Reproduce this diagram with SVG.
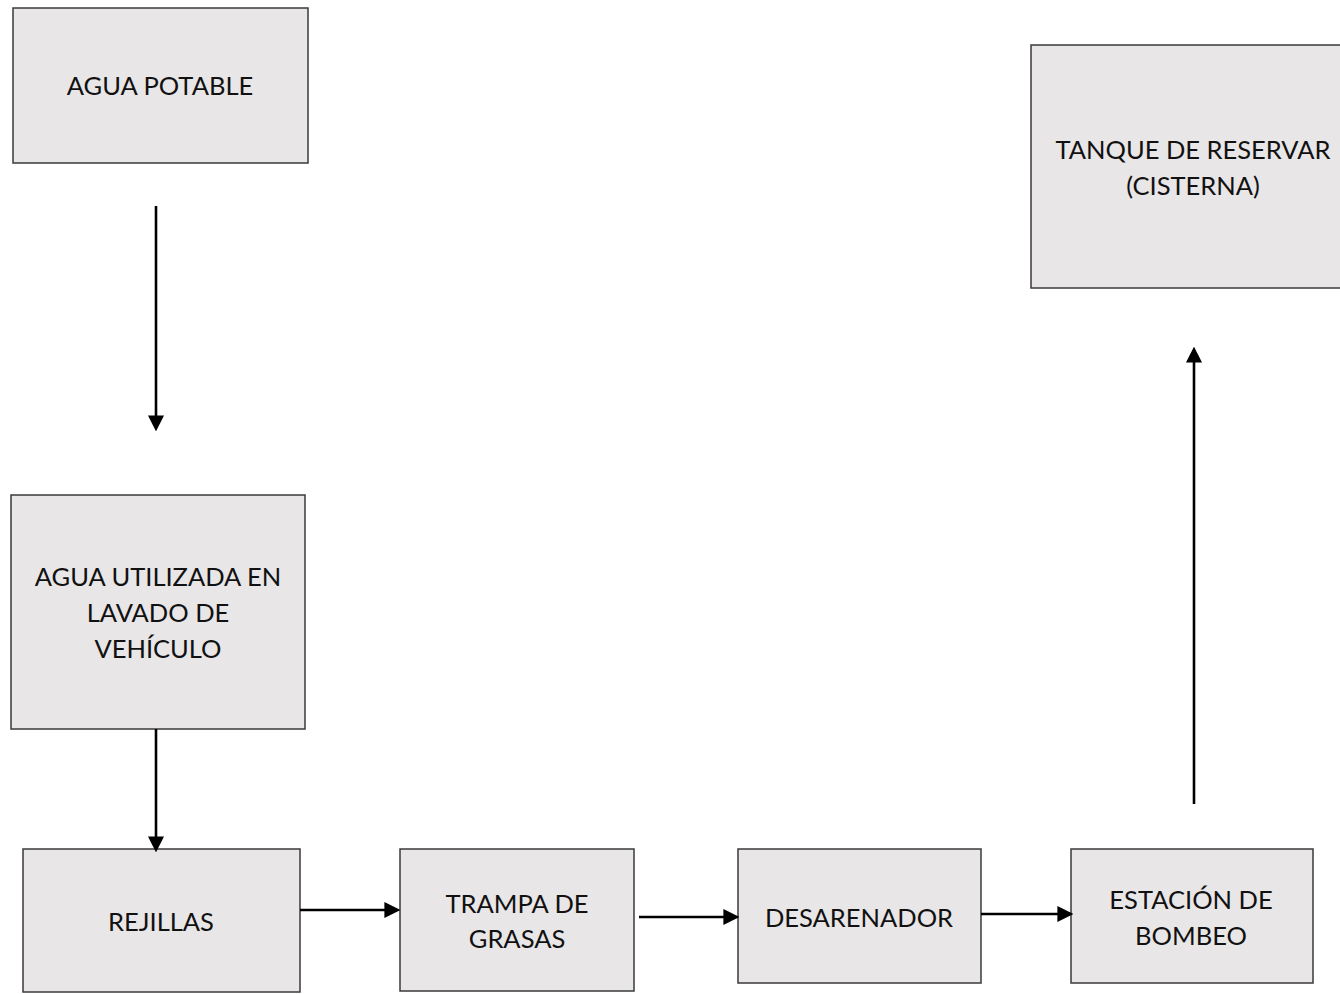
<svg xmlns="http://www.w3.org/2000/svg" width="1340" height="994" viewBox="0 0 1340 994">
<style>
.box{fill:#e8e6e7;stroke:#3a3a3a;stroke-width:1.5}
.lbl{font-family:Lato,"Open Sans","Liberation Sans",sans-serif;font-size:25.5px;fill:#111;text-anchor:middle}
.con{stroke:#000;stroke-width:2.6;fill:none;marker-end:url(#ah)}
</style>
<defs>
<marker id="ah" markerUnits="userSpaceOnUse" markerWidth="16" markerHeight="16" viewBox="0 0 10 10" refX="1" refY="5" orient="auto">
<path d="M0,0 L10,5 L0,10 z" fill="#000"/>
</marker>
</defs>
<rect width="1340" height="994" fill="#fff"/>
<g id="agua-potable"><rect class="box" x="13" y="8" width="295" height="155"/><text class="lbl" x="160" y="95">AGUA POTABLE</text></g>
<g id="agua-utilizada"><rect class="box" x="11" y="495" width="294" height="234"/><text class="lbl" x="158" y="586">AGUA UTILIZADA EN</text><text class="lbl" x="158" y="622">LAVADO DE</text><text class="lbl" x="158" y="658">VEHÍCULO</text></g>
<g id="rejillas"><rect class="box" x="23" y="849" width="277" height="143"/><text class="lbl" x="161" y="931">REJILLAS</text></g>
<g id="trampa"><rect class="box" x="400" y="849" width="234" height="142"/><text class="lbl" x="517" y="913">TRAMPA DE</text><text class="lbl" x="517" y="948">GRASAS</text></g>
<g id="desarenador"><rect class="box" x="738" y="849" width="243" height="134"/><text class="lbl" x="859" y="927">DESARENADOR</text></g>
<g id="estacion"><rect class="box" x="1071" y="849" width="242" height="134"/><text class="lbl" x="1191" y="909">ESTACIÓN DE</text><text class="lbl" x="1191" y="945">BOMBEO</text></g>
<g id="tanque"><rect class="box" x="1031" y="45" width="324" height="243"/><text class="lbl" x="1193" y="159">TANQUE DE RESERVAR</text><text class="lbl" x="1193" y="195">(CISTERNA)</text></g>
<g id="connectors">
<line class="con" x1="156" y1="206" x2="156" y2="417"/>
<line class="con" x1="156" y1="729" x2="156" y2="838"/>
<line class="con" x1="300" y1="910" x2="386" y2="910"/>
<line class="con" x1="639" y1="917" x2="725" y2="917"/>
<line class="con" x1="981" y1="914" x2="1059" y2="914"/>
<line class="con" x1="1194" y1="804" x2="1194" y2="361"/>
</g>
</svg>
